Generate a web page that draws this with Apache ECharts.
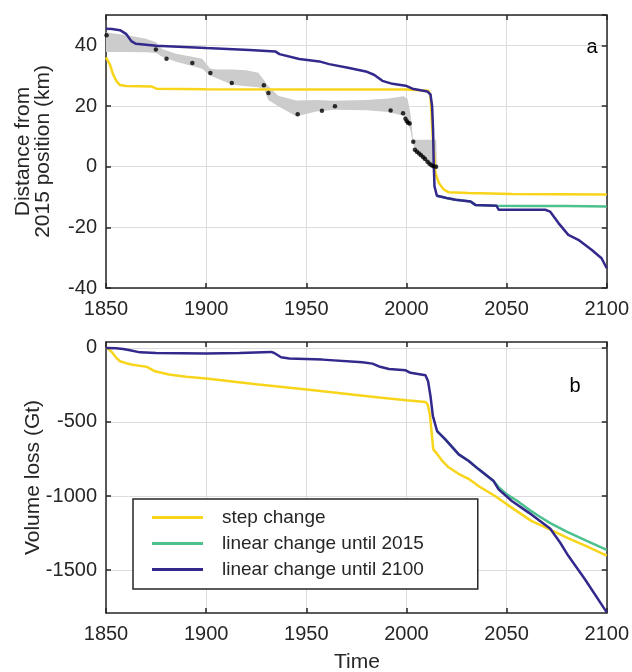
<!DOCTYPE html>
<html>
<head>
<meta charset="utf-8">
<script src="https://cdn.jsdelivr.net/npm/echarts@6/dist/echarts.min.js"></script>
<style>
  html, body { margin: 0; padding: 0; background: #ffffff; }
  #chart { width: 632px; height: 672px; }
</style>
</head>
<body>
<div id="chart"></div>
<script>
// ---------- Panel a: terminus distance from 2015 position (km) ----------
const stepYearsA = [1850, 1850.6, 1852, 1853.6, 1855.3, 1857, 1860, 1872.7, 1875.2, 1900, 1950, 2000, 2010.9, 2012, 2013, 2014.5, 2016.2, 2018.7, 2021, 2031, 2052.6, 2075, 2100];
const stepDistA  = [36.0, 35.8, 33.6, 30.3, 28.1, 26.9, 26.6, 26.45, 25.7, 25.5, 25.4, 25.4, 25.0, 23.7, 11.0, -2.1, -5.4, -7.6, -8.4, -8.7, -9.0, -9.1, -9.2];

const lin2100YearsA = [1850, 1853, 1857, 1860, 1862.8, 1865, 1875, 1900, 1921.6, 1934.5, 1936.6, 1946.5, 1956.5, 1961.4, 1971.4, 1979.7, 1983.8, 1988, 1993, 1999.6, 2003, 2010.4, 2012, 2012.8, 2013.3, 2013.6, 2014, 2015.2, 2020, 2024.5, 2032, 2034.4, 2045, 2046, 2069.3, 2071.7, 2075.9, 2080.8, 2085.8, 2092.4, 2097.4, 2100];
const lin2100DistA  = [45.5, 45.4, 45.0, 43.8, 41.3, 40.5, 39.9, 39.1, 38.5, 38.0, 37.1, 35.5, 34.7, 33.8, 32.5, 31.4, 30.3, 28.3, 27.3, 26.7, 25.7, 24.8, 23.8, 20.0, 12.0, 1.3, -6.5, -9.6, -10.3, -10.9, -11.5, -12.6, -12.9, -14.2, -14.2, -14.8, -18.6, -22.5, -24.1, -27.4, -30.2, -33.5];

const lin2015YearsA = [2015.2, 2020, 2024.5, 2032, 2034.4, 2045, 2060, 2080, 2100];
const lin2015DistA  = [-9.6, -10.3, -10.9, -11.5, -12.6, -12.9, -13.0, -13.0, -13.1];

// Observed terminus positions and their uncertainty envelope
const obsYears = [1850.3, 1874.9, 1880.2, 1893.1, 1902.1, 1912.8, 1928.8, 1931.1, 1945.7, 1957.8, 1964.3, 1992.1, 1998.3, 1999.5, 2000.2, 2000.8, 2001.6, 2003.4, 2004.2, 2005.2, 2006.3, 2007.3, 2008.4, 2009.3, 2010.5, 2011.5, 2012.5, 2013.5, 2014.8];
const obsDist  = [43.3, 38.6, 35.6, 34.2, 30.9, 27.6, 26.8, 24.3, 17.3, 18.4, 19.9, 18.5, 17.6, 15.8, 15.0, 14.5, 14.2, 8.2, 5.6, 4.9, 4.3, 3.8, 3.1, 2.5, 1.6, 1.0, 0.5, 0.1, 0.0];

const bandYears = [1850, 1860, 1870, 1875, 1878, 1885, 1893, 1898, 1902, 1905, 1913, 1920, 1926, 1929, 1931, 1936, 1945, 1955, 1964, 1980, 1991, 1998.5, 2000.5, 2002, 2003.3, 2005, 2010, 2014.9, 2015.2];
const bandUpper = [44.2, 43.4, 42.2, 41.0, 38.8, 37.2, 36.2, 35.6, 32.4, 32.0, 32.0, 31.8, 31.0, 28.4, 26.5, 23.4, 21.8, 22.0, 21.7, 22.0, 22.5, 23.2, 22.5, 17.5, 9.0, 8.9, 8.9, 8.9, 0.5];
const bandLower = [37.8, 37.8, 37.7, 37.5, 36.2, 34.6, 33.2, 32.3, 30.0, 29.2, 27.0, 26.5, 26.2, 25.5, 22.0, 19.9, 16.6, 18.2, 18.8, 18.6, 18.0, 16.8, 14.5, 12.0, 7.5, 4.8, 1.8, -0.8, -0.8];

// ---------- Panel b: cumulative volume loss (Gt) ----------
const stepYearsB = [1850, 1851, 1853.3, 1855, 1857, 1860, 1863.3, 1870.5, 1872, 1874.5, 1881.4, 1890, 1900, 1925, 1950.2, 1975, 1986.3, 2000, 2009.5, 2010.5, 2011.6, 2012.5, 2013.4, 2015.5, 2018, 2021, 2026, 2031.5, 2036, 2044.2, 2050.3, 2062.3, 2071.3, 2080.6, 2089.5, 2100];
const stepLossB  = [0, -5, -34, -65, -90, -103, -113, -128, -140, -158, -180, -195, -207, -245, -281, -318, -335, -353, -365, -380, -440, -560, -685, -719, -765, -806, -850, -888, -933, -1000, -1058, -1168, -1224, -1285, -1337, -1402];

const lin2100YearsB = [1850, 1855, 1858.6, 1862, 1867, 1875, 1900, 1916.7, 1932.4, 1934, 1937.4, 1941.5, 1958, 1978, 1983, 1986.3, 1991.3, 1999.6, 2002, 2009.5, 2010.8, 2012, 2013.2, 2015.3, 2019.4, 2026.1, 2031.1, 2036.1, 2043.5, 2046, 2052.6, 2061, 2071.7, 2076.7, 2080.8, 2089.1, 2100];
const lin2100LossB  = [0, -3, -7, -16, -30, -34, -38, -34, -27, -34, -63, -72, -79, -97, -106, -125, -142, -151, -168, -184, -225, -326, -461, -562, -618, -719, -764, -820, -899, -955, -1034, -1112, -1220, -1314, -1404, -1562, -1786];

const lin2015YearsB = [2015.3, 2019.4, 2026.1, 2031.1, 2036.1, 2043.5, 2046, 2050.1, 2055, 2061, 2066, 2072, 2080, 2090, 2100];
const lin2015LossB  = [-562, -618, -719, -764, -820, -899, -940, -989, -1030, -1090, -1135, -1185, -1240, -1303, -1364];

// Axis ticks
const yearTicks = [1850, 1900, 1950, 2000, 2050, 2100];
const lossTicks = [-1500, -1000, -500, 0];

const seriesNames = ['step change', 'linear change until 2015', 'linear change until 2100'];
const COLORS = { step: '#f8d51b', lin2015: '#4cc08d', lin2100: '#33298c', band: '#cccccc' };
const FONT = '"Liberation Sans", Arial, Helvetica, sans-serif';
const INK = '#262626';
const GRIDLINE = '#dcdcdc';
const TICK_FONT = 20;

const zip = (xs, ys) => xs.map((x, i) => [x, ys[i]]);
const plain = v => String(v);

const GRIDS = [
  { left: 106, top: 15, width: 502, height: 273 },
  { left: 106, top: 342, width: 502, height: 271 }
];

function xAxisFor(gridIndex, position, labelled) {
  return {
    type: 'value', gridIndex, position, min: 1850, max: 2100, interval: 50,
    axisLine: { show: true, onZero: false, lineStyle: { color: INK, width: 1.5 } },
    axisTick: { show: true, inside: true, length: 5, lineStyle: { color: INK, width: 1.5 },
                customValues: yearTicks },
    axisLabel: { show: labelled, margin: 11, fontSize: TICK_FONT, fontFamily: FONT, color: INK,
                 formatter: plain, customValues: yearTicks },
    splitLine: { show: labelled, lineStyle: { color: GRIDLINE, width: 1 } }
  };
}

function yAxisFor(gridIndex, position, labelled, range) {
  const ax = {
    type: 'value', gridIndex, position, min: range.min, max: range.max,
    axisLine: { show: true, onZero: false, lineStyle: { color: INK, width: 1.5 } },
    axisTick: { show: true, inside: true, length: 5, lineStyle: { color: INK, width: 1.5 } },
    axisLabel: { show: labelled, margin: 9, fontSize: TICK_FONT, fontFamily: FONT, color: INK,
                 formatter: plain },
    splitLine: { show: labelled, lineStyle: { color: GRIDLINE, width: 1 } }
  };
  if (range.interval) {
    ax.interval = range.interval;
    ax.axisLabel.showMaxLabel = false;
  }
  if (range.ticks) {
    ax.axisTick.customValues = range.ticks;
    ax.axisLabel.customValues = range.ticks;
  }
  return ax;
}

const distRange = { min: -40, max: 50, interval: 20 };
const lossRange = { min: -1790, max: 40, ticks: lossTicks };

function lineSeries(name, data, color, xi, yi) {
  return {
    name, type: 'line', data, xAxisIndex: xi, yAxisIndex: yi,
    symbol: 'none', showSymbol: false, smooth: false, z: 3,
    lineStyle: { color, width: 2.5 }, itemStyle: { color },
    emphasis: { disabled: true }, animation: false
  };
}

const chart = echarts.init(document.getElementById('chart'), null, { renderer: 'canvas' });

chart.setOption({
  backgroundColor: '#ffffff',
  animation: false,
  grid: GRIDS,
  xAxis: [
    xAxisFor(0, 'bottom', true),
    xAxisFor(0, 'top', false),
    xAxisFor(1, 'bottom', true),
    xAxisFor(1, 'top', false)
  ],
  yAxis: [
    yAxisFor(0, 'left', true, distRange),
    yAxisFor(0, 'right', false, distRange),
    yAxisFor(1, 'left', true, lossRange),
    yAxisFor(1, 'right', false, lossRange)
  ],
  legend: {
    data: seriesNames,
    orient: 'vertical', left: 133, top: 499,
    icon: 'rect', itemWidth: 51, itemHeight: 3, itemGap: 7,
    padding: [9, 54, 10, 19],
    borderColor: INK, borderWidth: 1.5, backgroundColor: '#ffffff',
    selectedMode: false,
    textStyle: { fontSize: 19, fontFamily: FONT, color: INK, padding: [0, 0, 0, 14] }
  },
  graphic: [
    { type: 'text', x: 33, y: 151.5, rotation: Math.PI / 2,
      style: { text: 'Distance from\n2015 position (km)', font: '21px ' + FONT, fill: INK,
               align: 'center', verticalAlign: 'middle', lineHeight: 20 } },
    { type: 'text', x: 33, y: 477.5, rotation: Math.PI / 2,
      style: { text: 'Volume loss (Gt)', font: '21px ' + FONT, fill: INK,
               align: 'center', verticalAlign: 'middle' } },
    { type: 'text', x: 357, y: 662,
      style: { text: 'Time', font: '21px ' + FONT, fill: INK, align: 'center', verticalAlign: 'middle' } },
    { type: 'text', x: 592, y: 47,
      style: { text: 'a', font: '20px ' + FONT, fill: '#000000', align: 'center', verticalAlign: 'middle' } },
    { type: 'text', x: 575, y: 386,
      style: { text: 'b', font: '20px ' + FONT, fill: '#000000', align: 'center', verticalAlign: 'middle' } }
  ],
  series: [
    // uncertainty envelope of observed positions: upper edge forward, lower edge back
    {
      name: 'envelope', type: 'custom', xAxisIndex: 0, yAxisIndex: 0,
      data: zip(bandYears, bandUpper), encode: { x: 0, y: 1 },
      silent: true, z: 1, clip: true,
      renderItem: (params, api) => {
        if (params.dataIndex !== 0) return null;
        const top = bandYears.map((yr, i) => api.coord([yr, bandUpper[i]]));
        const bottom = bandYears.map((yr, i) => api.coord([yr, bandLower[i]])).reverse();
        return {
          type: 'polygon',
          shape: { points: top.concat(bottom) },
          style: { fill: COLORS.band, stroke: null }
        };
      }
    },
    lineSeries(seriesNames[0], zip(stepYearsA, stepDistA), COLORS.step, 0, 0),
    lineSeries(seriesNames[1], zip(lin2015YearsA, lin2015DistA), COLORS.lin2015, 0, 0),
    lineSeries(seriesNames[2], zip(lin2100YearsA, lin2100DistA), COLORS.lin2100, 0, 0),
    {
      name: 'observed', type: 'scatter', xAxisIndex: 0, yAxisIndex: 0,
      data: zip(obsYears, obsDist), symbol: 'circle', symbolSize: 4.5,
      itemStyle: { color: '#000000' }, silent: true, z: 4
    },
    lineSeries(seriesNames[0], zip(stepYearsB, stepLossB), COLORS.step, 2, 2),
    lineSeries(seriesNames[1], zip(lin2015YearsB, lin2015LossB), COLORS.lin2015, 2, 2),
    lineSeries(seriesNames[2], zip(lin2100YearsB, lin2100LossB), COLORS.lin2100, 2, 2)
  ]
});
</script>
</body>
</html>
